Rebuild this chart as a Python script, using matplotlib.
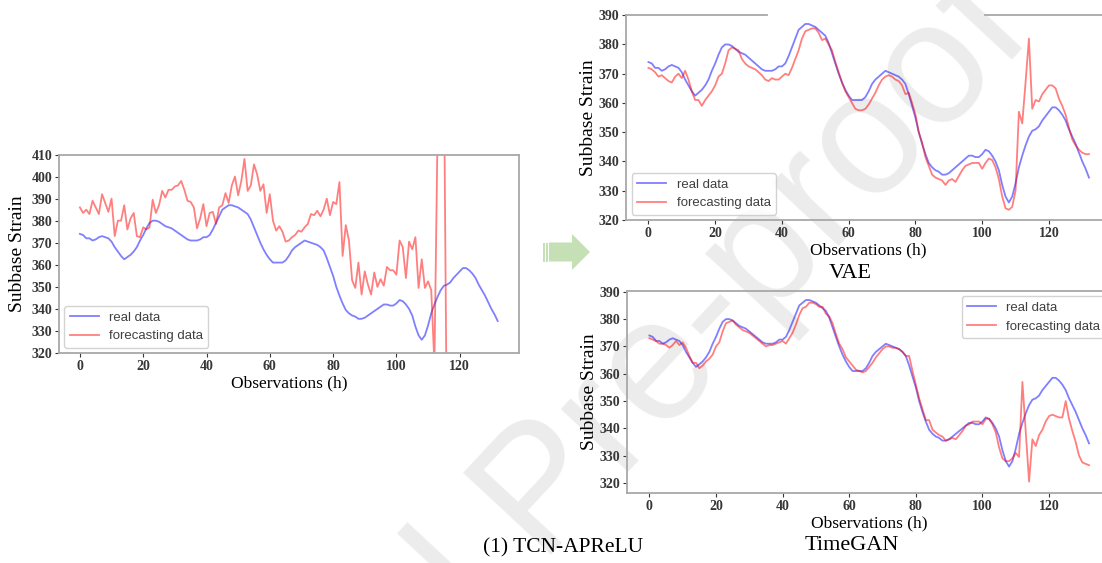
import numpy as np
import matplotlib
matplotlib.use('Agg')
from matplotlib import pyplot as plt
from matplotlib.patches import Polygon, Rectangle
from matplotlib.lines import Line2D

W, H = 1102, 563

hours = list(range(133))

real_data = [
    374, 373.5, 372, 372, 371, 371.5, 372.5, 373, 372.5, 372,
    370.5, 368, 366, 364, 362.5, 363.5, 364.5, 366, 368, 371,
    373.5, 376.5, 379, 380, 380, 379.5, 378.5, 377.5, 377, 376.5,
    375.5, 374.5, 373.5, 372.5, 371.5, 371, 371, 371, 371.5, 372.5,
    372.5, 373.5, 376, 379, 382, 385, 386, 387, 387, 386.5,
    386, 385, 384, 383, 380.5, 377, 373.5, 370, 367, 364.5,
    362.5, 361, 361, 361, 361, 362, 364, 366.5, 368, 369,
    370, 371, 370.5, 370, 369.5, 369, 368, 366.5, 363, 359,
    355, 350, 346, 342.5, 339.5, 338, 337, 336.5, 335.5, 335.5,
    336, 337, 338, 339, 340, 341, 342, 342, 341.5, 341.5,
    342.5, 344, 343.5, 342, 340, 337, 332, 328, 326, 328,
    332.5, 338, 342, 345.5, 348.5, 350.5, 351, 352, 354, 355.5,
    357, 358.5, 358.5, 357.5, 356, 354, 351, 348.5, 346, 343,
    340, 337.5, 334.5]

# TCN-APReLU forecast (blows up past the frame after ~112 h)
tcn_forecast = [
    386, 383.5, 385, 383, 389, 386, 383, 392, 388, 384,
    390, 373, 380, 380, 387, 376, 381, 383.5, 373, 372.5,
    377, 376, 377, 389.5, 383.5, 387, 393.5, 390.5, 394, 394,
    395.5, 396, 398, 394, 389, 388.5, 386, 376.5, 381, 387.5,
    377.5, 383.5, 384, 378.5, 386, 387, 392.5, 388, 396, 400,
    391.5, 398, 408, 393.5, 396, 405.5, 401, 393.5, 396.5, 383.5,
    392, 380, 375.5, 377.5, 375, 370.5, 371, 372.5, 373.5, 375.5,
    375, 377, 378.5, 383, 382.5, 384.5, 382, 385, 390, 382.5,
    388.5, 387.5, 397.5, 364, 378, 371, 353, 349.5, 361, 346.5,
    357, 351, 346.5, 356.5, 350, 353.5, 350.5, 359, 357.5, 357.5,
    355.5, 371, 368, 354, 370.5, 367, 372.5, 349.5, 362.5, 349.5,
    352.5, 348.5, 315, 420, 460, 450, 270, 262, 258, 255,
    252, 250, 248, 247, 246, 245, 244, 243, 242, 241,
    240, 239, 238]

vae_forecast = [
    372, 371.5, 370.5, 369, 369.5, 368.5, 367.5, 367, 369, 370,
    368.5, 371, 368, 364, 361, 361, 359, 361, 362.5, 364,
    366, 369, 370, 373.5, 378, 379, 378.5, 378, 375, 373.5,
    372.5, 372, 371.5, 370.5, 369.5, 368, 367.5, 368.5, 368, 368,
    369, 370, 369.5, 372, 375, 378, 382, 384.5, 385, 385.5,
    385.5, 384, 381.5, 382, 380, 378, 374, 370.5, 367, 364,
    362, 360, 358, 357.5, 357.5, 358, 359.5, 361.5, 363.5, 366,
    368, 369, 369.5, 369, 368, 367.5, 366, 363, 363.5, 360,
    356, 350, 346.5, 341.5, 338.5, 335.5, 334.5, 334, 333.5, 332,
    333.5, 334, 333, 335, 337, 338.5, 339, 339.5, 339.5, 339.5,
    337.5, 339.5, 341, 340.5, 338, 334, 328, 324, 323.5, 324.5,
    330, 357, 353, 367, 382, 358, 361, 360.5, 363, 364.5,
    366, 366, 365, 361.5, 359, 356, 351.5, 347.5, 345.5, 344,
    343, 342.5, 342.5]

timegan_forecast = [
    373, 372.5, 372, 371, 371, 370.5, 369.5, 370.5, 372, 370.5,
    371.5, 369.5, 366.5, 364, 364, 362, 363, 364.5, 365.5, 367,
    370, 371.5, 375.5, 378.5, 379, 379.5, 378, 377, 376, 375.5,
    375, 374, 373, 372, 371, 370, 370.5, 370.5, 371, 371.5,
    372, 371, 373, 375, 378, 381.5, 384, 384.5, 386, 386,
    385.5, 384.5, 384.5, 382, 381, 378.5, 374.5, 371, 369, 366,
    364.5, 363, 361.5, 361, 360.5, 361, 362.5, 364, 366, 367.5,
    369, 370, 370, 369.5, 369.5, 369, 368, 366.5, 366.5, 361,
    356, 351, 347, 343, 343, 339.5, 338.5, 337.5, 337, 335.5,
    336, 336.5, 336, 337.5, 339, 341, 341.5, 342.5, 342.5, 342.5,
    341.5, 343.5, 343.5, 341.5, 338.5, 333, 329, 328, 328, 329,
    331, 329.5, 357, 338.5, 320.5, 336, 333.5, 337.5, 339.5, 342.5,
    344.5, 345, 344.5, 344, 344, 350, 343.5, 339, 335, 330,
    327.5, 327, 326.5]

x_ticks = [0, 20, 40, 60, 80, 100, 120]
labels = ['real data', 'forecasting data']

SERIF = 'Liberation Serif'
SANS = 'Liberation Sans'


def box(left, top, right, bottom):
    # pixel box -> figure fraction [l, b, w, h]
    return [left / W, 1 - bottom / H, (right - left) / W, (bottom - top) / H]


def pt(x, y):
    return (x / W, 1 - y / H)


def panel(fig, rect, forecast, ylim, yticks, legend_loc, ypad):
    ax = fig.add_axes(rect)
    ax.set_facecolor('none')
    ax.plot(hours, real_data, color='blue', alpha=0.5, lw=1.3, label=labels[0])
    ax.plot(hours, forecast, color='red', alpha=0.5, lw=1.3, label=labels[1])
    ax.set_xlim(-6.6, 138.6)
    ax.set_ylim(*ylim)
    ax.set_xticks(x_ticks)
    ax.set_yticks(yticks)
    for s in ax.spines.values():
        s.set_color('#a8a8a8')
        s.set_linewidth(1.3)
    ax.tick_params(colors='#363636', length=3, width=0.8, pad=2)
    for lab in ax.get_xticklabels() + ax.get_yticklabels():
        lab.set_fontfamily(SERIF)
        lab.set_fontweight('bold')
        lab.set_fontsize(10)
    ax.set_ylabel('Subbase Strain', fontfamily=SERIF, fontsize=14, labelpad=ypad)
    ax.set_xlabel('Observations (h)', fontfamily=SERIF, fontsize=12.5, labelpad=2)
    leg = ax.legend(loc=legend_loc, prop={'family': SANS, 'size': 9.5},
                    frameon=True, fancybox=True, borderaxespad=0.4,
                    handlelength=2.2)
    leg.get_frame().set_edgecolor('#c8c8c8')
    for t in leg.get_texts():
        t.set_color('#404040')
    return ax


fig = plt.figure(figsize=(W / 100, H / 100), dpi=100)

# faint watermark behind everything (cut by the page edges, as in the source)
fig.text(*pt(545, 495), 'Journal Pre-proof', fontfamily=SANS, fontsize=125,
         color='#ececec', rotation=47, rotation_mode='anchor',
         ha='center', va='center', zorder=-5)

panel(fig, box(59, 154.5, 518.6, 353), tcn_forecast, (320, 410),
      range(320, 411, 10), 'lower left', 4)
ax_vae = panel(fig, box(626.4, 15.2, 1111, 220), vae_forecast, (320, 390),
               range(320, 391, 10), 'lower left', 1)
panel(fig, box(627.4, 291, 1111, 492.8), timegan_forecast, (316.4, 390.3),
      range(320, 391, 10), 'upper right', 1)

# the VAE frame has a gap in its top edge
ax_vae.spines['top'].set_visible(False)
for x0, x1 in [(0.0, (767 - 626.4) / (1111 - 626.4)), ((985 - 626.4) / (1111 - 626.4), 1.0)]:
    ax_vae.add_line(Line2D([x0, x1], [1, 1], transform=ax_vae.transAxes,
                           color='#a8a8a8', lw=1.3, clip_on=False))

# green arrow between the panels
green = '#c5e0b4'
arrow = [pt(549, 242.5), pt(572, 242.5), pt(572, 234), pt(590, 252),
         pt(572, 270), pt(572, 261.5), pt(549, 261.5)]
fig.add_artist(Polygon(arrow, closed=True, transform=fig.transFigure,
                       facecolor=green, edgecolor='none'))
for xs in [543, 546]:
    fig.add_artist(Rectangle(pt(xs, 261.5), 1.5 / W, 19 / H, transform=fig.transFigure,
                             facecolor=green, edgecolor='none'))

# captions
fig.text(*pt(563, 548), '(1) TCN-APReLU', fontfamily=SERIF, fontsize=15.5,
         ha='center', va='center')
fig.text(*pt(850, 274), 'VAE', fontfamily=SERIF, fontsize=16,
         ha='center', va='center')
fig.text(*pt(852, 545), 'TimeGAN', fontfamily=SERIF, fontsize=16,
         ha='center', va='center')

fig.savefig('out.png', dpi=100)
